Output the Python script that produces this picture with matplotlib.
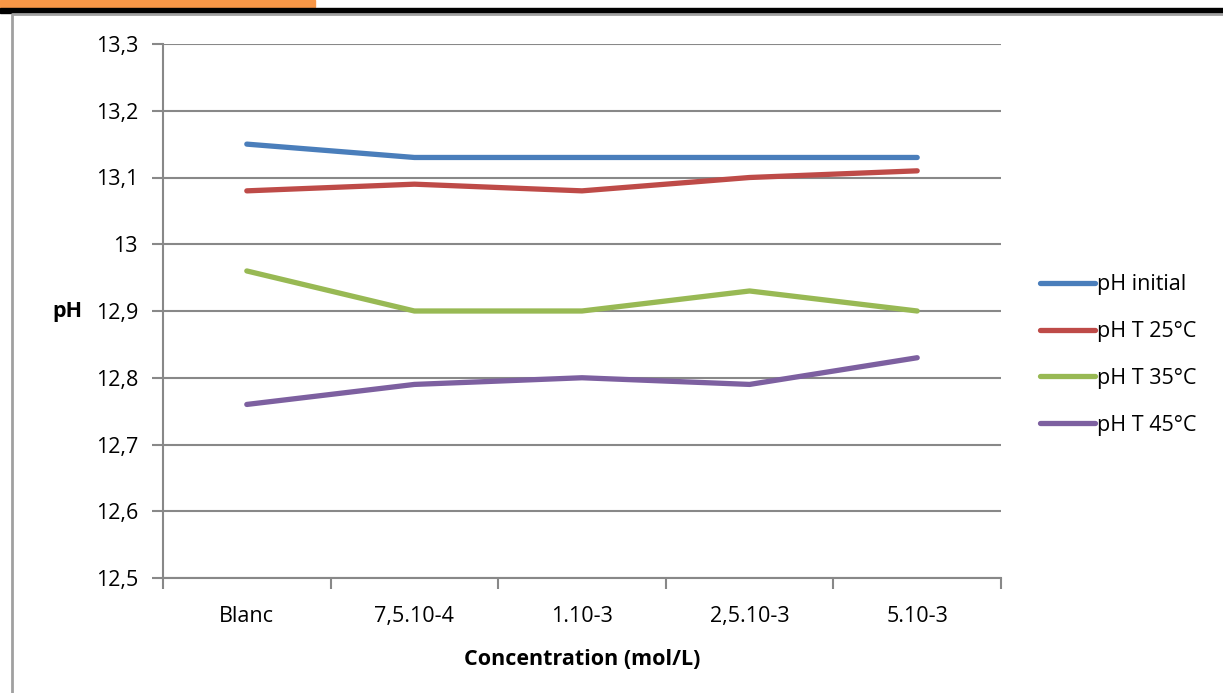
import matplotlib.pyplot as plt
from matplotlib.patches import Rectangle
from matplotlib.lines import Line2D

categories = ['Blanc', '7,5.10-4', '1.10-3', '2,5.10-3', '5.10-3']
ph_initial = [13.15, 13.13, 13.13, 13.13, 13.13]
ph_25 = [13.08, 13.09, 13.08, 13.10, 13.11]
ph_35 = [12.96, 12.90, 12.90, 12.93, 12.90]
ph_45 = [12.76, 12.79, 12.80, 12.79, 12.83]
y_ticks = [12.5, 12.6, 12.7, 12.8, 12.9, 13.0, 13.1, 13.2, 13.3]
y_labels = ['12,5', '12,6', '12,7', '12,8', '12,9', '13', '13,1', '13,2', '13,3']

series = [
    ('pH initial', ph_initial, '#4A7EBB'),
    ('pH T 25°C', ph_25, '#BE4B48'),
    ('pH T 35°C', ph_35, '#98B954'),
    ('pH T 45°C', ph_45, '#7D60A0'),
]

plt.rcParams['font.family'] = ['Open Sans', 'DejaVu Sans']
FS = 15.5

W, H = 1223, 693
fig = plt.figure(figsize=(W / 100, H / 100), dpi=100)

# page decoration: orange tab, black rule, grey frame
fig.patches.append(Rectangle((0, 1 - 7 / H), 315 / W, 7 / H, transform=fig.transFigure,
                             color='#F79646', zorder=0))
fig.patches.append(Rectangle((0, 1 - 13 / H), 1, 5 / H, transform=fig.transFigure,
                             color='black', zorder=0))
fig.lines.append(Line2D([12 / W, 12 / W, 1], [0, 1 - 14 / H, 1 - 14 / H],
                        transform=fig.transFigure, color='#A0A0A0', lw=2))

ax = fig.add_axes([163 / W, 1 - 578 / H, (1001 - 163) / W, (578 - 44) / H])

x = range(len(categories))
for label, values, color in series:
    ax.plot(x, values, color=color, lw=3.8, label=label, solid_capstyle='round', zorder=3)

ax.set_xlim(-0.5, len(categories) - 0.5)
ax.set_ylim(12.5, 13.3)
ax.set_yticks(y_ticks)
ax.set_yticklabels(y_labels, fontsize=FS)
ax.set_xticks(x)
ax.set_xticklabels(categories, fontsize=FS)
ax.tick_params(axis='x', which='major', length=0, pad=20)
ax.set_xticks([i - 0.5 for i in range(len(categories) + 1)], minor=True)
ax.tick_params(axis='x', which='minor', length=8, width=1.5, color='#888888', direction='out')
ax.tick_params(axis='y', length=8, width=1.5, color='#888888', pad=10)

ax.grid(axis='y', color='#888888', lw=1.5, zorder=1)
for side in ['top', 'right']:
    ax.spines[side].set_visible(False)
for side in ['left', 'bottom']:
    ax.spines[side].set_color('#888888')
    ax.spines[side].set_linewidth(1.5)

ax.set_xlabel('Concentration (mol/L)', fontsize=FS, fontweight='bold', labelpad=16)
ax.set_ylabel('pH', fontsize=FS, fontweight='bold', rotation=0, ha='center', va='center')
ax.yaxis.set_label_coords(-0.1146, 0.5)

ax.legend(loc='center left', bbox_to_anchor=(1.0465, 0.4176), frameon=False, fontsize=FS,
          borderpad=0, borderaxespad=0, handlelength=2.55, handletextpad=0.12,
          labelspacing=1.2)

fig.savefig('out.png', dpi=100)
